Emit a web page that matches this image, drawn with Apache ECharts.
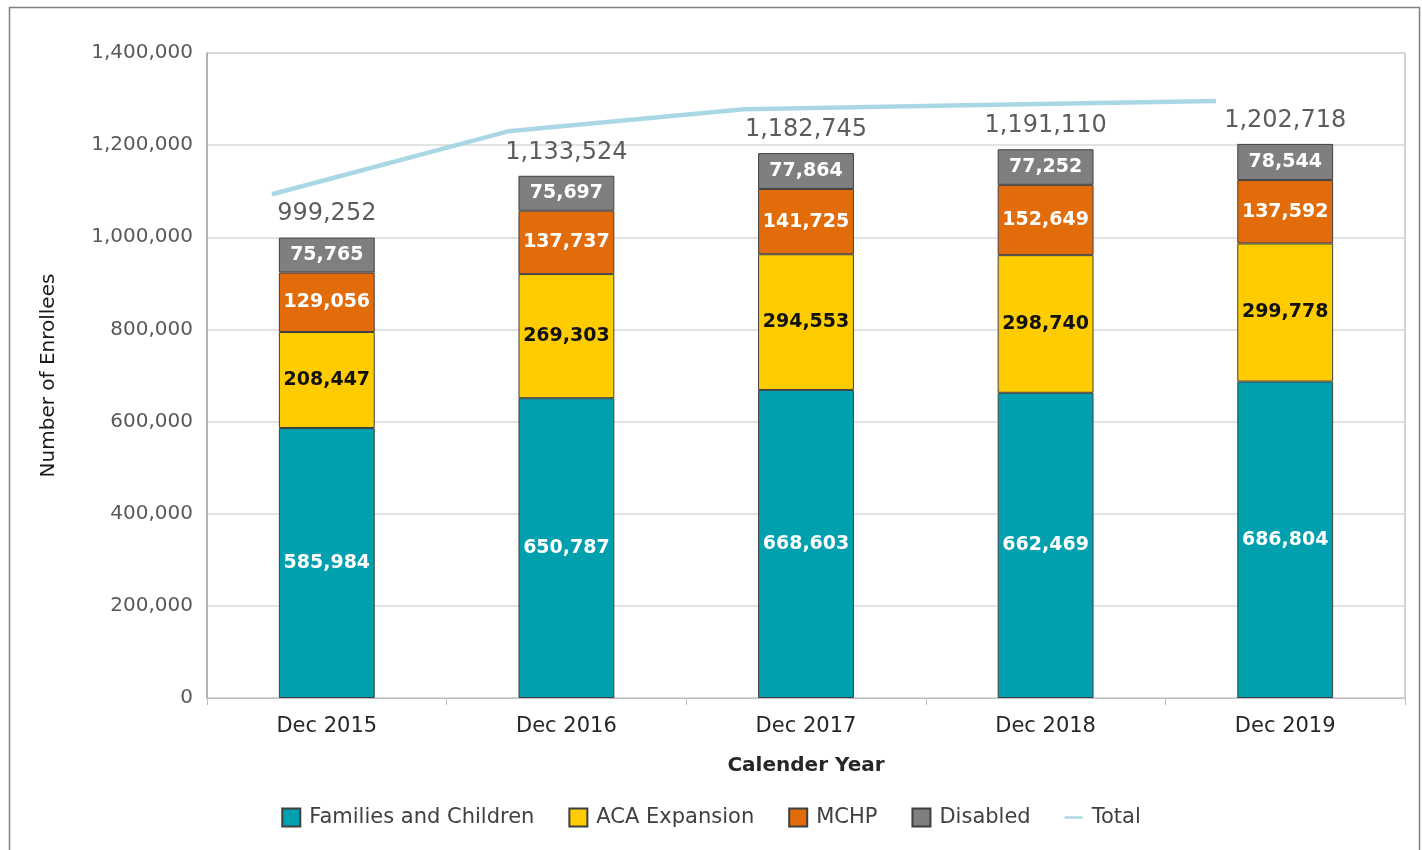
<!DOCTYPE html>
<html>
<head>
<meta charset="utf-8">
<script src="https://cdn.jsdelivr.net/npm/echarts@6/dist/echarts.min.js"></script>
<style>
html,body{margin:0;padding:0;background:#fff;}
#c{width:1422px;height:850px;}
</style>
</head>
<body>
<div id="c"></div>
<script>
const categories = ['Dec 2015','Dec 2016','Dec 2017','Dec 2018','Dec 2019'];
const families = [585984, 650787, 668603, 662469, 686804];
const aca = [208447, 269303, 294553, 298740, 299778];
const mchp = [129056, 137737, 141725, 152649, 137592];
const disabled = [75765, 75697, 77864, 77252, 78544];
const totals = [999252, 1133524, 1182745, 1191110, 1202718];
// Total line as drawn in the picture (sits above the bars, shifted)
const totalLine = [1093500, 1230000, 1278000, 1287000, 1296000];
const yTicks = [0, 200000, 400000, 600000, 800000, 1000000, 1200000, 1400000];

const FONT = 'DejaVu Sans';
const fmt = v => Number(v).toLocaleString('en-US');

const chart = echarts.init(document.getElementById('c'));

function barSeries(name, data, color, labelColor) {
  return {
    name, type: 'bar', stack: 'all', data,
    xAxisIndex: 0, yAxisIndex: 0,
    barWidth: '40%',
    itemStyle: { color, borderColor: '#3f3f3f', borderWidth: 1 },
    label: {
      show: true, position: 'inside',
      formatter: p => fmt(p.value),
      color: labelColor, fontFamily: FONT, fontWeight: 'bold', fontSize: 19
    },
    emphasis: { disabled: true }
  };
}

chart.setOption({
  animation: false,
  backgroundColor: '#fff',
  textStyle: { fontFamily: FONT },
  graphic: [{
    type: 'rect', left: 7, top: 5, silent: true,
    shape: { width: 1410, height: 860 },
    style: { fill: 'none', stroke: '#808080', lineWidth: 1.5 }
  }],
  legend: {
    bottom: 17, left: 'center',
    itemWidth: 18, itemHeight: 18, itemGap: 34,
    textStyle: { fontFamily: FONT, fontSize: 21, color: '#404040', padding: [0, 0, 0, 4] },
    data: [
      { name: 'Families and Children', icon: 'rect' },
      { name: 'ACA Expansion', icon: 'rect' },
      { name: 'MCHP', icon: 'rect' },
      { name: 'Disabled', icon: 'rect' },
      { name: 'Total', icon: 'path://M0 0 H30 V4 H0 Z', itemStyle: { color: '#a9d8e4', borderWidth: 0 } }
    ]
  },
  grid: [
    { left: 207, right: 17, top: 53, bottom: 152, show: true, borderColor: '#a6a6a6', borderWidth: 1, containLabel: false },
    { left: 272, right: 206, top: 53, bottom: 152, containLabel: false }
  ],
  xAxis: [
    {
      type: 'category', gridIndex: 0, data: categories,
      axisLine: { lineStyle: { color: '#bfbfbf', width: 1 } },
      axisTick: { show: true, alignWithLabel: false, length: 7, lineStyle: { color: '#bfbfbf' } },
      axisLabel: { margin: 18, fontFamily: FONT, fontSize: 21, color: '#262626' },
      name: 'Calender Year', nameLocation: 'middle', nameGap: 58,
      nameTextStyle: { fontFamily: FONT, fontSize: 20, fontWeight: 'bold', color: '#262626' }
    },
    {
      type: 'category', gridIndex: 1, data: categories, boundaryGap: false, show: false
    }
  ],
  yAxis: [
    {
      type: 'value', gridIndex: 0, min: 0, max: 1400000, interval: 200000,
      axisLine: { show: true, lineStyle: { color: '#a6a6a6', width: 1.5 } },
      axisTick: { show: false },
      splitLine: { lineStyle: { color: '#d9d9d9', width: 1.5 } },
      axisLabel: { margin: 14, fontFamily: FONT, fontSize: 20, color: '#595959', formatter: v => yTicks.includes(v) ? fmt(v) : '' },
      name: 'Number of Enrollees', nameLocation: 'middle', nameGap: 148, nameRotate: 90,
      nameTextStyle: { fontFamily: FONT, fontSize: 20, color: '#1a1a1a' }
    },
    {
      type: 'value', gridIndex: 1, min: 0, max: 1400000, show: false
    }
  ],
  series: [
    barSeries('Families and Children', families, '#00a0ae', '#ffffff'),
    barSeries('ACA Expansion', aca, '#ffcc00', '#111111'),
    barSeries('MCHP', mchp, '#e36c0a', '#ffffff'),
    barSeries('Disabled', disabled, '#7f7f7f', '#ffffff'),
    {
      name: 'TotalLabels', type: 'scatter', xAxisIndex: 0, yAxisIndex: 0,
      data: totals, symbolSize: 1,
      itemStyle: { color: 'rgba(0,0,0,0)' },
      label: {
        show: true, position: 'top', distance: 11,
        formatter: p => fmt(p.value),
        fontFamily: FONT, fontSize: 24, color: '#333333'
      },
      silent: true, z: 5
    },
    {
      name: 'Total', type: 'line', xAxisIndex: 1, yAxisIndex: 1,
      data: totalLine, symbol: 'none', showSymbol: false,
      lineStyle: { color: '#a9d8e4', width: 4.5 },
      itemStyle: { color: '#a9d8e4' },
      silent: true, z: 4
    }
  ]
});
</script>
</body>
</html>
